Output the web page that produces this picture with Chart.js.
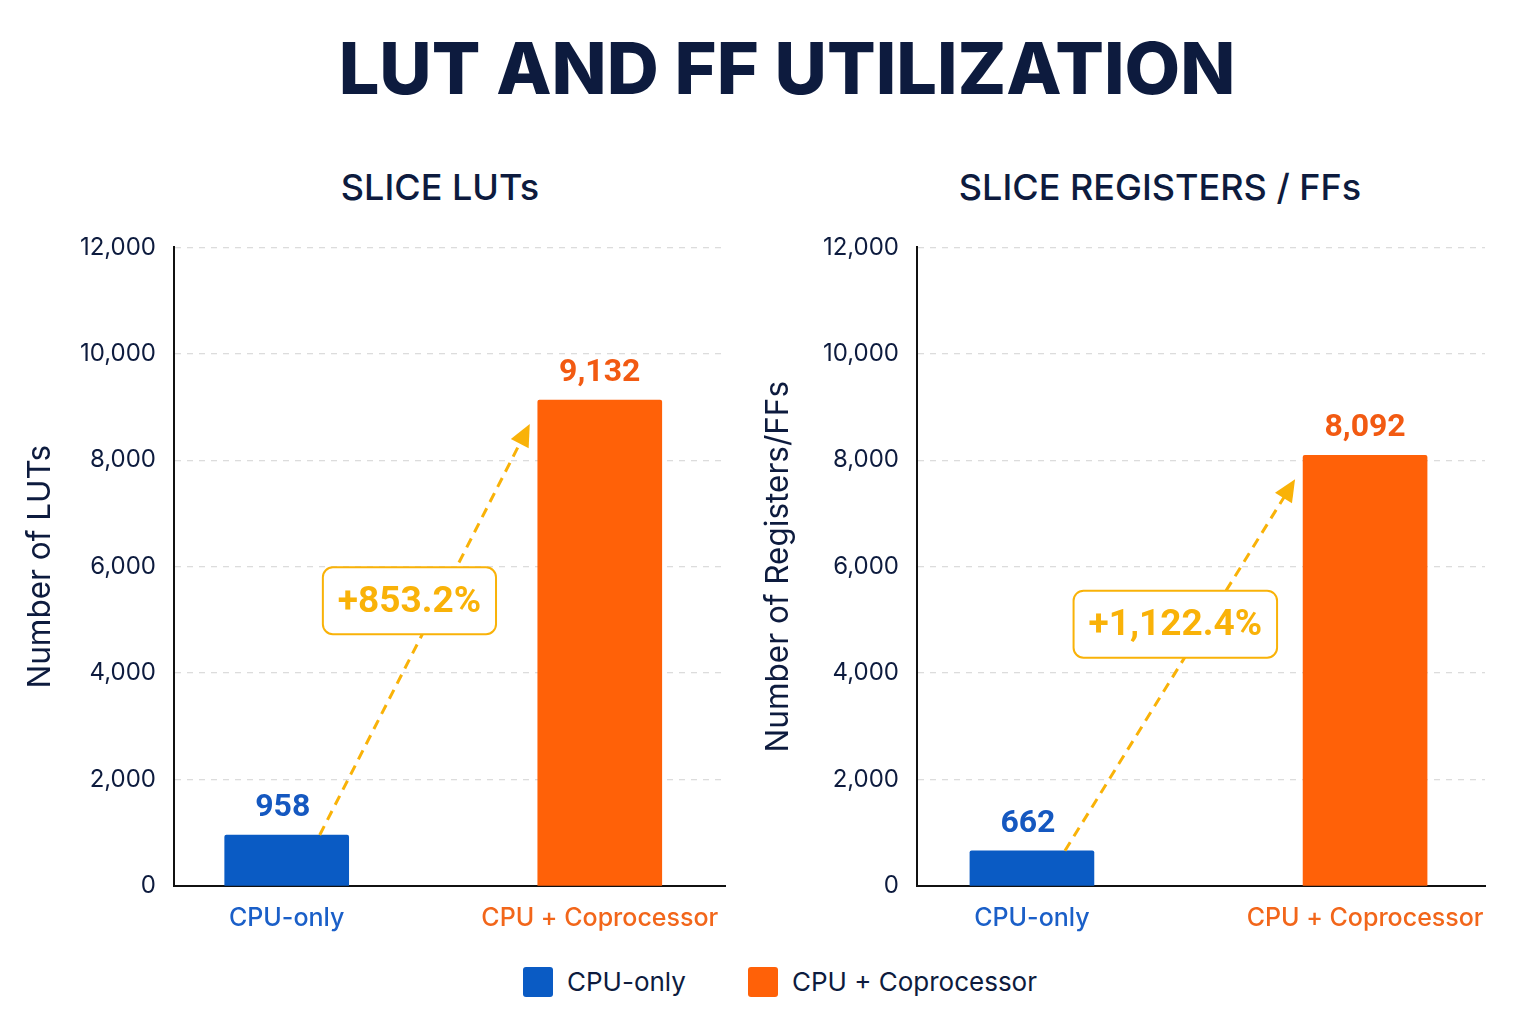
<!DOCTYPE html>
<html>
<head>
<meta charset="utf-8">
<script src="https://cdn.jsdelivr.net/npm/chart.js@4.4.1/dist/chart.umd.min.js"></script>
<style>
  body { margin: 0; width: 1536px; height: 1024px; background: #ffffff; position: relative; overflow: hidden; font-family: Inter, "Noto Sans", sans-serif; color: #0d1b3e; }
  #title { position: absolute; left: 19px; width: 1536px; top: 24px; text-align: center; font-size: 72px; font-weight: 800; line-height: 88px; }
  .sub { position: absolute; top: 164px; font-size: 36px; font-weight: 500; text-align: center; width: 600px; line-height: 46px; }
  .box { position: absolute; top: 215px; height: 730px; }
  #legend { position: absolute; left: 12px; width: 1536px; top: 966px; display: flex; justify-content: center; gap: 62px; font-size: 26px; }
  .item { display: flex; align-items: center; gap: 14px; }
  .sw { width: 30px; height: 30px; border-radius: 3px; }
</style>
</head>
<body>
<div id="title">LUT AND FF UTILIZATION</div>
<div class="sub" style="left:140px">SLICE LUTs</div>
<div class="sub" style="left:860px">SLICE REGISTERS / FFs</div>
<div class="box" style="left:0;width:760px"><canvas id="lutChart" width="760" height="730"></canvas></div>
<div class="box" style="left:760px;width:776px"><canvas id="ffChart" width="776" height="730"></canvas></div>
<div id="legend">
  <div class="item"><div class="sw" style="background:#0a5bc4"></div>CPU-only</div>
  <div class="item"><div class="sw" style="background:#ff6108"></div>CPU + Coprocessor</div>
</div>
<script>
// data
const categories = ['CPU-only', 'CPU + Coprocessor'];
const lutValues = [958, 9132];
const ffValues = [662, 8092];
const yMin = 0;
const yMax = 12000;
const yStep = 2000;

const barColors = ['#0a5bc4', '#ff6108'];
const labelColors = ['#1558c0', '#f25a12'];
const tickColors = ['#1a5fc8', '#f2661a'];
const labelShift = [-4, 0];
const amber = '#f9b208';
const ink = '#0d1b3e';

function pctText(vals) {
    const p = (vals[1] - vals[0]) / vals[0] * 100;
    return '+' + p.toLocaleString('en-US', { minimumFractionDigits: 1, maximumFractionDigits: 1 }) + '%';
}

// value labels above bars
const valueLabels = {
    id: 'valueLabels',
    afterDatasetsDraw(chart) {
        const ctx = chart.ctx;
        const meta = chart.getDatasetMeta(0);
        ctx.save();
        ctx.font = 'bold 32px Roboto, Inter, sans-serif';
        ctx.textAlign = 'center';
        ctx.textBaseline = 'bottom';
        meta.data.forEach((bar, i) => {
            ctx.fillStyle = labelColors[i];
            ctx.fillText(chart.data.datasets[0].data[i].y.toLocaleString('en-US'), bar.x + labelShift[i], bar.y - 11);
        });
        ctx.restore();
    }
};

// dashed arrow + percent box
const growthArrow = {
    id: 'growthArrow',
    afterDatasetsDraw(chart) {
        const ctx = chart.ctx;
        const opts = chart.options.plugins.growthArrow;
        const meta = chart.getDatasetMeta(0);
        const a = meta.data[0], b = meta.data[1];
        const x1 = a.x + 33, y1 = a.y;
        const x2 = b.x - b.width / 2 - 8, y2 = b.y + 24;
        const ang = Math.atan2(y2 - y1, x2 - x1);
        ctx.save();
        ctx.strokeStyle = amber;
        ctx.fillStyle = amber;
        ctx.lineWidth = 3;
        ctx.setLineDash([10, 7]);
        ctx.beginPath();
        ctx.moveTo(x1, y1);
        ctx.lineTo(x2 - 16 * Math.cos(ang), y2 - 16 * Math.sin(ang));
        ctx.stroke();
        ctx.setLineDash([]);
        // head
        ctx.beginPath();
        ctx.moveTo(x2, y2);
        ctx.lineTo(x2 - 22 * Math.cos(ang) + 10 * Math.sin(ang), y2 - 22 * Math.sin(ang) - 10 * Math.cos(ang));
        ctx.lineTo(x2 - 22 * Math.cos(ang) - 10 * Math.sin(ang), y2 - 22 * Math.sin(ang) + 10 * Math.cos(ang));
        ctx.closePath();
        ctx.fill();
        // box
        const t = opts.at;
        const cx = x1 + (x2 - x1) * t - 30;
        const cy = y1 + (y2 - y1) * t;
        ctx.font = 'bold 37px Roboto, Inter, sans-serif';
        const w = ctx.measureText(opts.text).width + 30;
        const h = 67;
        ctx.beginPath();
        ctx.roundRect(cx - w / 2, cy - h / 2, w, h, 10);
        ctx.fillStyle = '#ffffff';
        ctx.fill();
        ctx.lineWidth = 2;
        ctx.strokeStyle = amber;
        ctx.stroke();
        ctx.fillStyle = amber;
        ctx.textAlign = 'center';
        ctx.textBaseline = 'middle';
        ctx.fillText(opts.text, cx, cy + 2);
        ctx.restore();
    }
};

function makeChart(id, values, yTitle, pad, yWidth, xMin, xMax, boxAt) {
    const ctx = document.getElementById(id).getContext('2d');
    return new Chart(ctx, {
        type: 'bar',
        data: {
            datasets: [{
                data: values.map((v, i) => ({ x: i, y: v })),
                backgroundColor: barColors,
                borderRadius: { topLeft: 2, topRight: 2 },
                borderSkipped: 'bottom',
                barThickness: 124
            }]
        },
        options: {
            responsive: false,
            animation: false,
            layout: { padding: pad },
            plugins: {
                legend: { display: false },
                tooltip: { enabled: false },
                growthArrow: { text: pctText(values), at: boxAt }
            },
            scales: {
                x: {
                    type: 'linear',
                    min: xMin,
                    max: xMax,
                    offset: false,
                    afterBuildTicks: s => { s.ticks = [{ value: 0 }, { value: 1 }]; },
                    afterFit: s => { s.height = 49; },
                    grid: { display: false, drawTicks: false },
                    border: { display: true, color: '#111111', width: 2 },
                    ticks: {
                        padding: 17,
                        font: { family: 'Inter', size: 25, weight: 500 },
                        color: c => tickColors[c.index],
                        callback: v => categories[v]
                    }
                },
                y: {
                    min: yMin,
                    max: yMax,
                    afterFit: s => { s.width = yWidth; },
                    grid: { color: '#dcdcdc', lineWidth: 1.3, drawTicks: false },
                    border: { display: true, color: '#111111', width: 2, dash: [6, 6] },
                    ticks: {
                        stepSize: yStep,
                        padding: 18,
                        font: { family: 'Inter', size: 24 },
                        color: ink,
                        callback: v => v.toLocaleString('en-US')
                    },
                    title: {
                        display: true,
                        text: yTitle,
                        color: ink,
                        font: { family: 'Inter', size: 31.5 },
                        padding: { top: 0, bottom: 4 }
                    }
                }
            }
        },
        plugins: [valueLabels, growthArrow]
    });
}

makeChart('lutChart', lutValues, 'Number of LUTs', { left: 22, right: 35, top: 8, bottom: 10 }, 152, -0.36, 1.4, 0.57);
makeChart('ffChart', ffValues, 'Number of Registers/FFs', { left: 0, right: 51, top: 8, bottom: 10 }, 157, -0.345, 1.36, 0.61);
</script>
</body>
</html>
